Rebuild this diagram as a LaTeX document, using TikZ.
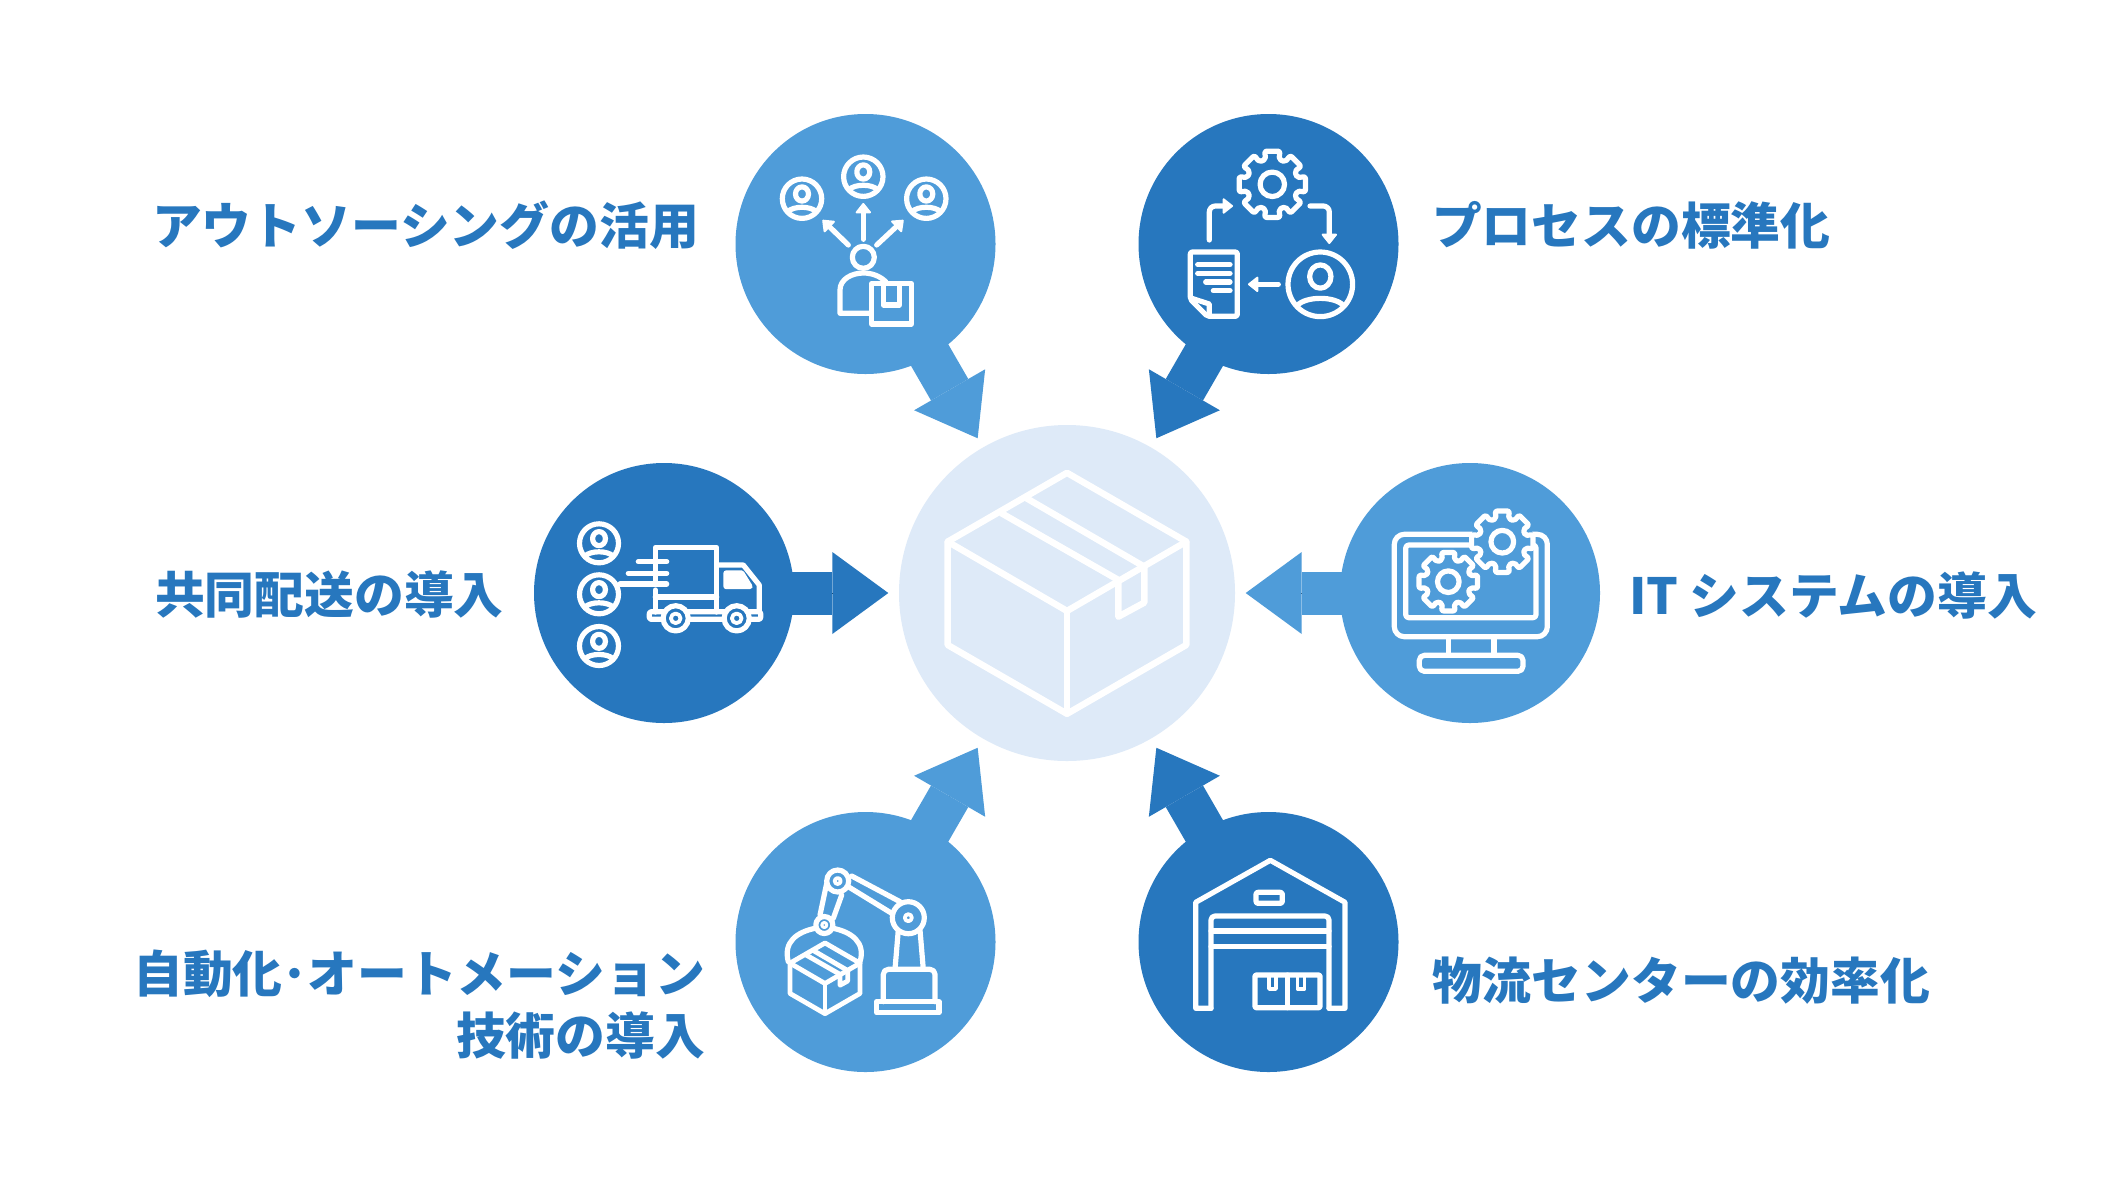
\documentclass[tikz,border=0pt]{standalone}
\usepackage{fontspec}
\setmainfont{Noto Sans CJK JP}
\usetikzlibrary{arrows.meta}
\definecolor{lightb}{HTML}{4F9CD9}
\definecolor{darkb}{HTML}{2777BE}
\definecolor{hubc}{HTML}{DEEAF8}
\definecolor{textb}{HTML}{2777BE}
\tikzset{
  disc/.style={circle,minimum size=260pt,inner sep=0pt,outer sep=0pt,draw=none},
  hubdisc/.style={circle,minimum size=336pt,inner sep=0pt,outer sep=0pt,fill=hubc,draw=none},
  spoke/.style={line width=43pt,line cap=butt,-{Triangle[length=56pt,width=82pt,line width=0pt]},shorten >=178.7pt,
    preaction={draw,arrows=-,shorten >=225pt}},
  icon/.style={draw=white,line width=5.2pt,line join=round,line cap=round},
  small/.style={icon,-{Triangle[length=11pt,width=17pt,round,line width=2pt]}},
  lab/.style={font=\fontsize{49.8pt}{62pt}\selectfont\bfseries,text=textb,inner sep=0pt,outer sep=0pt},
}
\newcommand{\usericon}[3]{\begin{scope}[shift={(#1,#2)},scale=#3]
  \draw[icon] (0,0) circle (1);
  \draw[icon] (0,-.24) ellipse (.33 and .36);
  \draw[icon] (-.72,.66) .. controls (-.45,.36) and (.45,.36) .. (.72,.66);
\end{scope}}
\newcommand{\gearicon}[4]{\begin{scope}[shift={(#1,#2)}]
  \fill[#4] (0,0) circle (#3);
  \draw[icon,rounded corners=2pt,fill=#4] (-15:#3*.76)
    \foreach \a in {0,45,...,315}{ -- (\a-15:#3*.76) -- (\a-13:#3) -- (\a+13:#3) -- (\a+15:#3*.76)} -- cycle;
  \draw[icon] (0,0) circle (#3*.36);
\end{scope}}
\newcommand{\boxicon}[4]{\begin{scope}[shift={(#1,#2)},scale=#3]
  \draw[icon,line width=#4] (0,-1.01) -- (1,-.433) -- (1,.433) -- (0,1.01) -- (-1,.433) -- (-1,-.433) -- cycle;
  \draw[icon,line width=#4] (-1,-.433) -- (0,.148) -- (1,-.433);
  \draw[icon,line width=#4] (0,.148) -- (0,1.01);
  \draw[icon,line width=#4] (-.547,-.67) -- (.43,-.112) -- (.43,.196) -- (.648,.078) -- (.648,-.223) -- (-.338,-.796);
\end{scope}}
\begin{document}
\begin{tikzpicture}[x=1pt,y=-1pt]
\useasboundingbox (0,0) rectangle (2111,1187);
\fill[white] (0,0) rectangle (2111,1187);
% nodes
\node[hubdisc] (hub) at (1067,593) {};
\coordinate (ctl) at (865.5,244);
\coordinate (ctr) at (1268.5,244);
\coordinate (cml) at (664,593);
\coordinate (cmr) at (1470,593);
\coordinate (cbl) at (865.5,942);
\coordinate (cbr) at (1268.5,942);
% connectors
\draw[spoke,draw=lightb] (ctl) -- (hub.center);
\draw[spoke,draw=darkb] (ctr) -- (hub.center);
\draw[spoke,draw=darkb] (cml) -- (hub.center);
\draw[spoke,draw=lightb] (cmr) -- (hub.center);
\draw[spoke,draw=lightb] (cbl) -- (hub.center);
\draw[spoke,draw=darkb] (cbr) -- (hub.center);
% discs
\node[disc,fill=lightb] (tl) at (ctl) {};
\node[disc,fill=darkb] (tr) at (ctr) {};
\node[disc,fill=darkb] (ml) at (cml) {};
\node[disc,fill=lightb] (mr) at (cmr) {};
\node[disc,fill=lightb] (bl) at (cbl) {};
\node[disc,fill=darkb] (br) at (cbr) {};
% hub box
\boxicon{1067}{593.3}{119.3}{6.5pt}
% icon 1
\usericon{802}{198.7}{19.7}
\usericon{863.3}{176.7}{19.7}
\usericon{926.3}{198.7}{19.7}
\draw[small] (863.3,239.3) -- (863.3,203);
\draw[small] (848.3,245) -- (822.5,220);
\draw[small] (876.7,245) -- (903.5,220);
\draw[icon] (863.3,257.3) circle (11);
\draw[icon] (870,313.3) -- (840,313.3) -- (840,290) .. controls (840,279) and (852,273) .. (863.3,273) .. controls (872,273) and (880,276) .. (886,282);
\draw[icon] (871.7,283.7) rectangle (911.3,324);
\draw[icon] (883.3,283.7) -- (883.3,305) -- (899.3,305) -- (899.3,283.7);
% icon 2
\gearicon{1272.3}{184.3}{34}{darkb}
\draw[small,rounded corners=6pt] (1209.3,240) |- (1233,206);
\draw[small,rounded corners=6pt] (1310,206) -| (1329.3,244);
\draw[small] (1278.3,284.3) -- (1248,284.3);
\usericon{1320.3}{284.3}{32.3}
\draw[icon,rounded corners=2pt] (1207.3,316.3) -- (1237.3,316.3) -- (1237.3,252) -- (1190.3,252) -- (1190.3,299.3) -- cycle;
\draw[icon] (1191.7,298.3) -- (1209.3,304) -- (1209.3,316);
\draw[icon] (1197.7,264.7) -- (1230,264.7);
\draw[icon] (1197.7,273.3) -- (1230,273.3);
\draw[icon] (1205.7,282) -- (1230,282);
\draw[icon] (1213.3,290.7) -- (1230,290.7);
% icon 3
\usericon{599}{543.3}{19.5}
\usericon{599}{594.3}{19.5}
\usericon{599}{646}{19.5}
\draw[icon] (655.3,584) -- (655.3,547.3) -- (716.7,547.3) -- (716.7,612);
\draw[icon] (655.3,590) -- (655.3,612);
\draw[icon] (655.3,597) -- (716.7,597);
\draw[icon] (716.7,565) -- (743.3,565) -- (759.3,585) -- (759.3,612);
\draw[icon,fill=white] (726,573) -- (741.7,573) -- (750,586.5) -- (726,586.5) -- cycle;
\draw[icon,rounded corners=2pt] (649.3,611.7) rectangle (760.7,619.3);
\foreach \wx in {675.7,736.7}{
  \draw[icon,fill=darkb] (\wx,618.3) circle (12.6);
  \draw[icon,line width=3.8pt] (\wx,618.3) circle (4.8);
}
\draw[icon] (638.3,561.7) -- (666.7,561.7);
\draw[icon] (628.3,573.3) -- (666.7,573.3);
\draw[icon] (620,584) -- (666.7,584);
% icon 4
\draw[icon,rounded corners=10pt] (1394.3,534.3) rectangle (1547.3,636.7);
\draw[icon,rounded corners=3pt] (1405.7,545) rectangle (1536,617.7);
\draw[icon] (1448.3,636.7) -- (1448.3,655);
\draw[icon] (1494,636.7) -- (1494,655);
\draw[icon,rounded corners=5pt] (1419.3,671.3) -- (1419.3,655.3) -- (1523,655.3) -- (1523,671.3) -- cycle;
\gearicon{1502.3}{541.7}{31.5}{lightb}
\gearicon{1448.3}{581.7}{30}{lightb}
% icon 5
\boxicon{825}{978.3}{35}{4.8pt}
\draw[icon] (876.7,1001.7) rectangle (939,1012.7);
\draw[icon,rounded corners=5pt] (883.3,1001.7) -- (883.3,969.3) -- (935,969.3) -- (935,1001.7);
\draw[icon] (895,969.3) -- (898.3,930);
\draw[icon] (923.3,969.3) -- (920,930);
\draw[icon] (851.7,876) -- (900,901.7);
\draw[icon] (848.3,886.7) -- (891.7,913.3);
\draw[icon] (826.7,883.3) -- (820,915);
\draw[icon] (841.7,895) -- (833.3,918.3);
\draw[icon,fill=lightb] (908.3,917.7) circle (16);
\draw[icon,line width=3.8pt] (908.3,917.7) circle (3.5);
\draw[icon,fill=lightb] (837.7,881) circle (11);
\draw[icon,line width=3.8pt] (837.7,881) circle (3);
\draw[icon,fill=lightb] (824.3,925) circle (8.5);
\draw[icon,line width=3pt] (824.3,925) circle (2.5);
\draw[icon] (815,928.3) .. controls (797,932) and (783,942) .. (788.3,961.7);
\draw[icon] (833.3,928.3) .. controls (851,932) and (866,942) .. (860,961.7);
% icon 6
\draw[icon] (1211,1008.3) -- (1195.7,1008.3) -- (1195.7,902.3) -- (1270.3,860.3) -- (1345,902.3) -- (1345,1008.3) -- (1329,1008.3);
\draw[icon,rounded corners=4pt] (1211,1008.3) -- (1211,916) -- (1329,916) -- (1329,1008.3);
\draw[icon] (1211,931) -- (1329,931);
\draw[icon] (1211,946.7) -- (1329,946.7);
\draw[icon,rounded corners=2pt] (1256,892.3) rectangle (1282.3,903.3);
\draw[icon,rounded corners=1pt] (1255,975) rectangle (1320,1007.7);
\draw[icon] (1287.5,975) -- (1287.5,1007.7);
\draw[icon,line width=3.5pt,line cap=butt] (1269,975) -- (1269,989) -- (1276,989) -- (1276,975);
\draw[icon,line width=3.5pt,line cap=butt] (1297.5,975) -- (1297.5,989) -- (1304.5,989) -- (1304.5,975);
% labels
\node[lab,anchor=west] (t1) at (152,225) {アウトソーシングの活用};
\node[lab,anchor=west] (t2) at (1432,225) {プロセスの標準化};
\node[lab,anchor=west] (t3) at (155,595) {共同配送の導入};
\node[lab,anchor=west] (t4) at (1629,595) {IT システムの導入};
\node[lab,anchor=east,align=right] (t5) at (705,1005) {自動化･オートメーション\\技術の導入};
\node[lab,anchor=west] (t6) at (1432,981) {物流センターの効率化};
\end{tikzpicture}
\end{document}
